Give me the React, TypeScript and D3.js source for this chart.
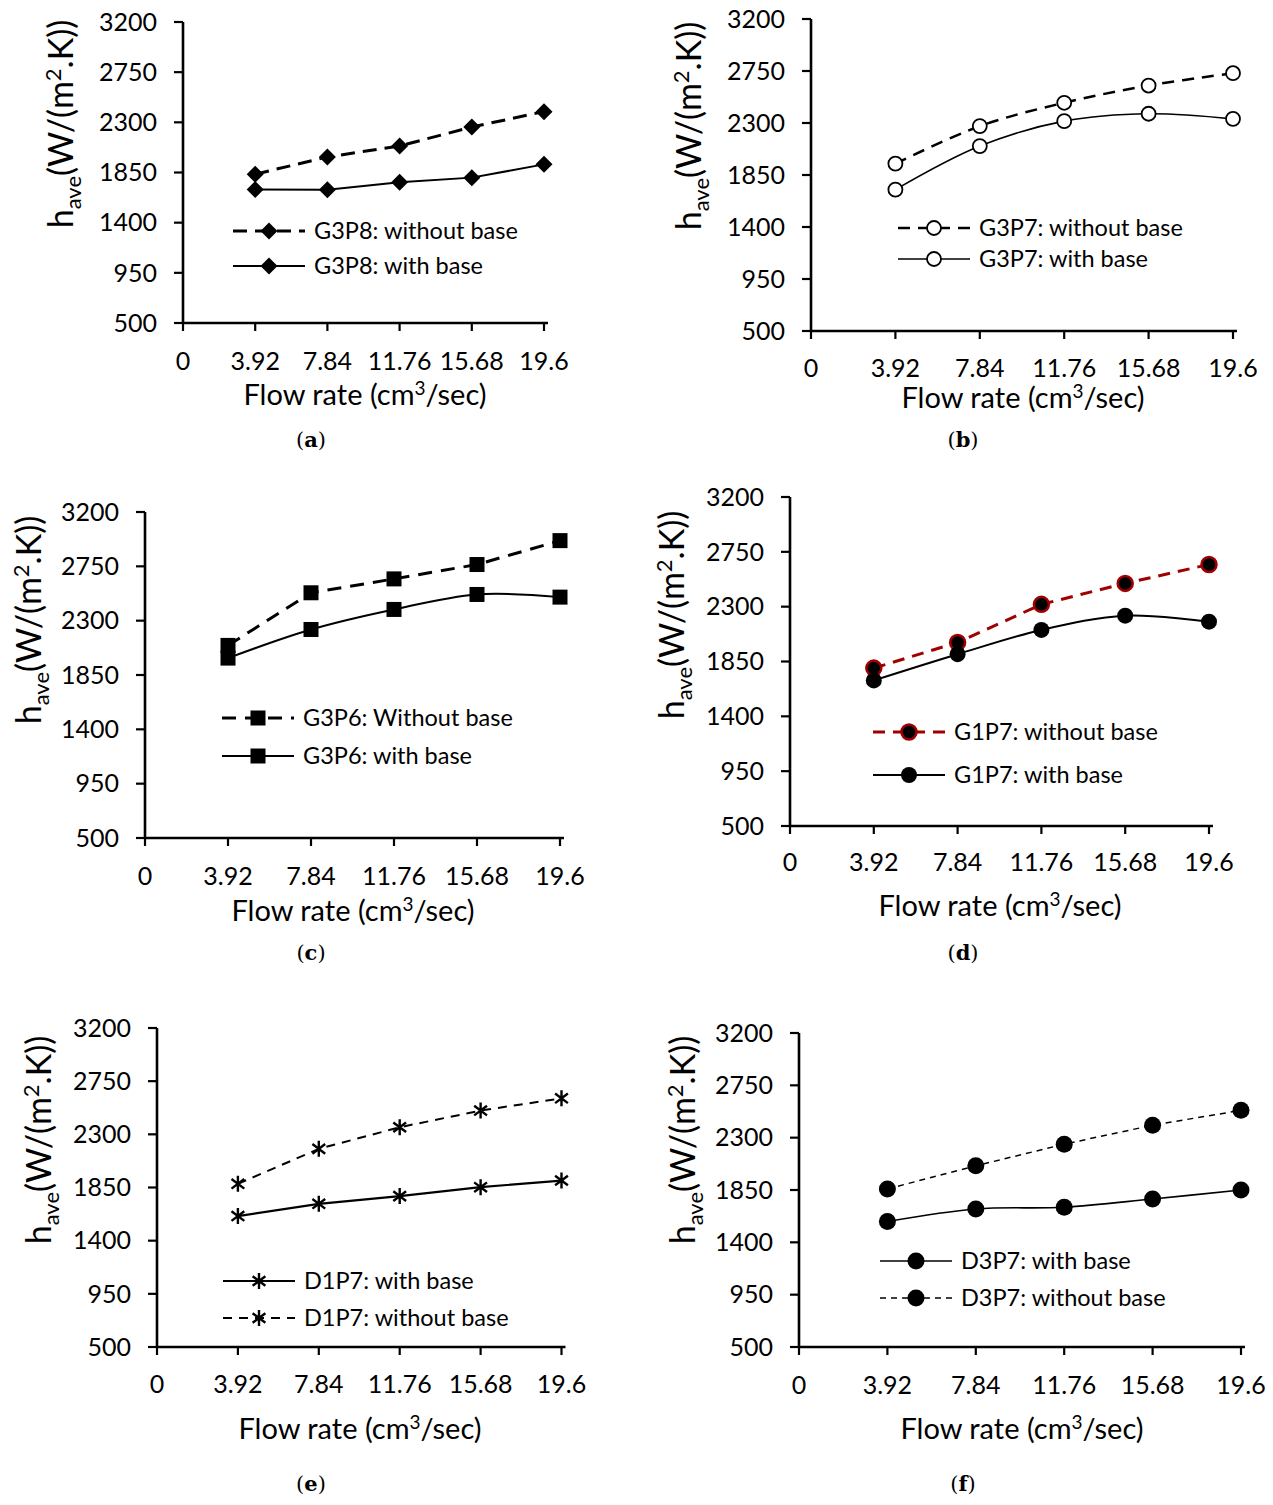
import React from "react";
import * as d3 from "d3";

// ---------- data ----------
const flowRates = [3.92, 7.84, 11.76, 15.68, 19.6];
const xTickValues = [0, 3.92, 7.84, 11.76, 15.68, 19.6];
const xTickLabels = ["0", "3.92", "7.84", "11.76", "15.68", "19.6"];
const yTicks = [500, 950, 1400, 1850, 2300, 2750, 3200];

const g3p8Without = [1835, 1989, 2088, 2258, 2396];
const g3p8With = [1698, 1696, 1762, 1804, 1923];
const g3p7Without = [1948, 2273, 2475, 2624, 2731];
const g3p7With = [1723, 2100, 2316, 2380, 2336];
const g3p6Without = [2095, 2531, 2646, 2765, 2963];
const g3p6With = [1990, 2227, 2393, 2517, 2495];
const g1p7Without = [1796, 2006, 2319, 2491, 2646];
const g1p7With = [1695, 1910, 2109, 2226, 2177];
const d1p7With = [1608, 1712, 1777, 1853, 1909];
const d1p7Without = [1881, 2177, 2360, 2501, 2605];
const d3p7With = [1579, 1687, 1702, 1773, 1850];
const d3p7Without = [1859, 2058, 2244, 2407, 2535];

const FONT = "Lato, 'Open Sans', sans-serif";

type Marker = "diamond" | "circleOpen" | "square" | "circle" | "asterisk";
type Series = {
  name: string;
  values: number[];
  marker: Marker;
  dash?: string;
  width: number;
  color: string;
  markerStroke?: string;
  smooth: boolean;
  markerSize: number;
};
type PanelCfg = {
  label: string;
  axisX: number;
  yTop: number;
  yBottom: number;
  step: number;
  tickLabelY: number;
  xTitleY: number;
  xTitleX: number;
  yTitleX: number;
  yTitleY: number;
  captionX: number;
  captionY: number;
  legendX: number;
  legendY: number[];
  series: Series[];
};

const panels: PanelCfg[] = [
  {
    label: "a", axisX: 183, yTop: 22, yBottom: 323, step: 72.2, tickLabelY: 361,
    xTitleX: 365, xTitleY: 395, yTitleX: 61, yTitleY: 124, captionX: 311, captionY: 440,
    legendX: 233, legendY: [231, 266],
    series: [
      { name: "G3P8: without base", values: g3p8Without, marker: "diamond", dash: "14,8", width: 3, color: "#000", smooth: false, markerSize: 17 },
      { name: "G3P8: with base", values: g3p8With, marker: "diamond", width: 2, color: "#000", smooth: false, markerSize: 17 },
    ],
  },
  {
    label: "b", axisX: 811, yTop: 19, yBottom: 331, step: 84.4, tickLabelY: 368,
    xTitleX: 1023, xTitleY: 398, yTitleX: 689, yTitleY: 126, captionX: 963, captionY: 440,
    legendX: 898, legendY: [228, 259],
    series: [
      { name: "G3P7: without base", values: g3p7Without, marker: "circleOpen", dash: "12,8", width: 2.5, color: "#000", smooth: true, markerSize: 7 },
      { name: "G3P7: with base", values: g3p7With, marker: "circleOpen", width: 1.6, color: "#000", smooth: true, markerSize: 7 },
    ],
  },
  {
    label: "c", axisX: 145, yTop: 512, yBottom: 838, step: 83, tickLabelY: 876,
    xTitleX: 353, xTitleY: 911, yTitleX: 29, yTitleY: 620, captionX: 311, captionY: 953,
    legendX: 222, legendY: [718, 756],
    series: [
      { name: "G3P6: Without base", values: g3p6Without, marker: "square", dash: "14,9", width: 3, color: "#000", smooth: false, markerSize: 15 },
      { name: "G3P6: with base", values: g3p6With, marker: "square", width: 2, color: "#000", smooth: true, markerSize: 15 },
    ],
  },
  {
    label: "d", axisX: 790, yTop: 497, yBottom: 826, step: 83.8, tickLabelY: 862,
    xTitleX: 1000, xTitleY: 906, yTitleX: 672, yTitleY: 615, captionX: 963, captionY: 953,
    legendX: 873, legendY: [732, 775],
    series: [
      { name: "G1P7: without base", values: g1p7Without, marker: "circle", dash: "12,8", width: 3, color: "#a00000", markerStroke: "#a00000", smooth: false, markerSize: 7.5 },
      { name: "G1P7: with base", values: g1p7With, marker: "circle", width: 2, color: "#000", smooth: true, markerSize: 8 },
    ],
  },
  {
    label: "e", axisX: 157, yTop: 1028, yBottom: 1347, step: 80.9, tickLabelY: 1384,
    xTitleX: 360, xTitleY: 1429, yTitleX: 39, yTitleY: 1140, captionX: 311, captionY: 1484,
    legendX: 223, legendY: [1281, 1318],
    series: [
      { name: "D1P7: with base", values: d1p7With, marker: "asterisk", width: 2.2, color: "#000", smooth: false, markerSize: 8 },
      { name: "D1P7: without base", values: d1p7Without, marker: "asterisk", dash: "9,7", width: 2, color: "#000", smooth: false, markerSize: 8 },
    ],
  },
  {
    label: "f", axisX: 799, yTop: 1033, yBottom: 1347, step: 88.4, tickLabelY: 1385,
    xTitleX: 1022, xTitleY: 1429, yTitleX: 683, yTitleY: 1140, captionX: 963, captionY: 1484,
    legendX: 880, legendY: [1261, 1298],
    series: [
      { name: "D3P7: with base", values: d3p7With, marker: "circle", width: 1.6, color: "#000", smooth: true, markerSize: 8.5 },
      { name: "D3P7: without base", values: d3p7Without, marker: "circle", dash: "6,5", width: 1.5, color: "#000", smooth: false, markerSize: 8.5 },
    ],
  },
];

function MarkerShape({ s, x, y }: { s: Series; x: number; y: number }) {
  const r = s.markerSize;
  switch (s.marker) {
    case "diamond": {
      const h = r / 2;
      return <path d={`M${x},${y - h}L${x + h},${y}L${x},${y + h}L${x - h},${y}Z`} fill="#000" />;
    }
    case "square": {
      const h = r / 2;
      return <rect x={x - h} y={y - h} width={r} height={r} fill="#000" />;
    }
    case "circleOpen":
      return <circle cx={x} cy={y} r={r} fill="#fff" stroke="#000" strokeWidth={1.8} />;
    case "circle":
      return <circle cx={x} cy={y} r={r} fill="#000" stroke={s.markerStroke ?? "#000"} strokeWidth={s.markerStroke ? 2.5 : 0} />;
    case "asterisk": {
      const a = r;
      const d2 = a * 0.8;
      return (
        <path
          d={`M${x},${y - a}L${x},${y + a}M${x - d2},${y - d2 * 0.75}L${x + d2},${y + d2 * 0.75}M${x - d2},${y + d2 * 0.75}L${x + d2},${y - d2 * 0.75}`}
          stroke="#000" strokeWidth={2.4} fill="none"
        />
      );
    }
  }
  return null;
}

function Panel({ p }: { p: PanelCfg }) {
  const x = d3.scaleLinear().domain([0, 19.6]).range([p.axisX, p.axisX + 5 * p.step]);
  const y = d3.scaleLinear().domain([500, 3200]).range([p.yBottom, p.yTop]);
  const axisEnd = x(19.6) + 4;

  return (
    <g fontFamily={FONT}>
      {/* axes */}
      <line x1={p.axisX} x2={p.axisX} y1={y(3200)} y2={y(500) + 1} stroke="#000" strokeWidth={2.6} />
      <line x1={p.axisX - 1} x2={axisEnd} y1={y(500)} y2={y(500)} stroke="#000" strokeWidth={2.6} />
      {yTicks.map((t) => (
        <g key={"y" + t}>
          <line x1={p.axisX - 9} x2={p.axisX} y1={y(t)} y2={y(t)} stroke="#000" strokeWidth={2.2} />
          <text x={p.axisX - 26} y={y(t)} dy="0.35em" textAnchor="end" fontSize={25} fill="#000">
            {t}
          </text>
        </g>
      ))}
      {xTickValues.map((t, i) => (
        <g key={"x" + t}>
          <line x1={x(t)} x2={x(t)} y1={y(500)} y2={y(500) + 8} stroke="#000" strokeWidth={2.2} />
          <text x={x(t)} y={p.tickLabelY} dy="0.35em" textAnchor="middle" fontSize={25} fill="#000">
            {xTickLabels[i]}
          </text>
        </g>
      ))}
      {/* axis titles */}
      <text x={p.xTitleX} y={p.xTitleY} dy="0.35em" textAnchor="middle" fontSize={29} fill="#000">
        Flow rate (cm<tspan dy="-10" fontSize={19}>3</tspan>
        <tspan dy="10">/sec)</tspan>
      </text>
      <text
        transform={`translate(${p.yTitleX},${p.yTitleY}) rotate(-90)`}
        textAnchor="middle"
        dy="0.35em"
        fontSize={34}
        fill="#000"
      >
        h<tspan dy="8" fontSize={22}>ave</tspan>
        <tspan dy="-8">(W/(m</tspan>
        <tspan dy="-12" fontSize={22}>2</tspan>
        <tspan dy="12">.K))</tspan>
      </text>
      {/* series */}
      {p.series.map((s, si) => {
        const line = d3
          .line<number>()
          .x((_, i) => x(flowRates[i]))
          .y((v) => y(v))
          .curve(s.smooth ? d3.curveCatmullRom.alpha(0.5) : d3.curveLinear);
        return (
          <g key={"s" + si}>
            <path d={line(s.values) ?? ""} fill="none" stroke={s.color} strokeWidth={s.width} strokeDasharray={s.dash} />
            {s.values.map((v, i) => (
              <MarkerShape key={i} s={s} x={x(flowRates[i])} y={y(v)} />
            ))}
          </g>
        );
      })}
      {/* legend */}
      {p.series.map((s, si) => {
        const ly = p.legendY[si];
        const x0 = p.legendX;
        const x1 = x0 + 72;
        return (
          <g key={"l" + si}>
            <line x1={x0} x2={x1} y1={ly} y2={ly} stroke={s.color} strokeWidth={s.width} strokeDasharray={s.dash} />
            <MarkerShape s={s} x={(x0 + x1) / 2} y={ly} />
            <text x={x1 + 9} y={ly} dy="0.35em" fontSize={23.5} fill="#000">
              {s.name}
            </text>
          </g>
        );
      })}
      {/* caption */}
      <text x={p.captionX} y={p.captionY} dy="0.35em" textAnchor="middle" fontSize={21} fontFamily="'DejaVu Serif', serif" fill="#000">
        (<tspan fontWeight="bold">{p.label}</tspan>)
      </text>
    </g>
  );
}

export default function App() {
  return (
    <svg
      width={1273}
      height={1505}
      viewBox="0 0 1273 1505"
      style={{ position: "absolute", left: 0, top: 0, background: "#fff" }}
    >
      <rect width={1273} height={1505} fill="#fff" />
      {panels.map((p) => (
        <Panel key={p.label} p={p} />
      ))}
    </svg>
  );
}
